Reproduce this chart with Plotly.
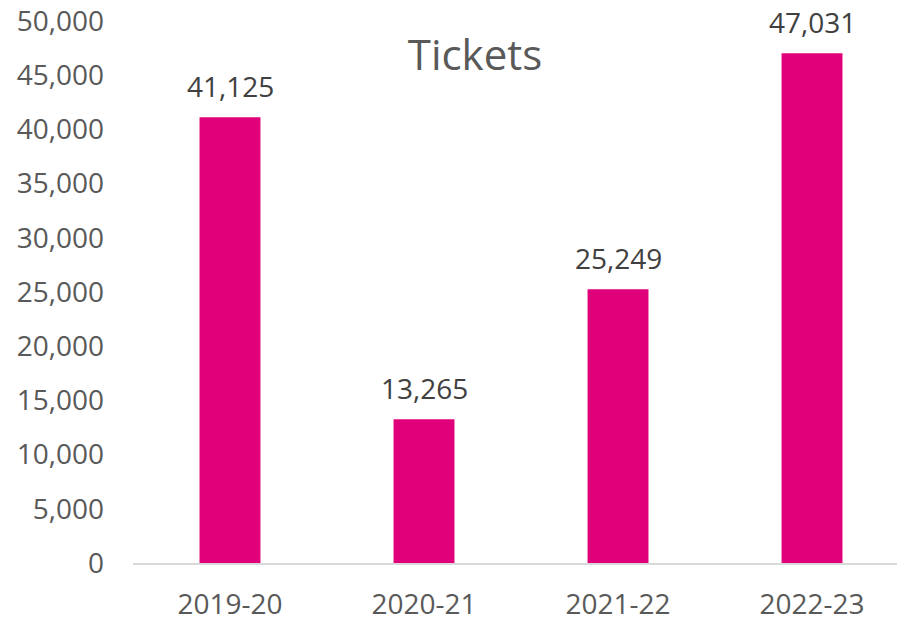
import plotly.graph_objects as go

categories = ["2019-20", "2020-21", "2021-22", "2022-23"]
tickets = [41125, 13265, 25249, 47031]
y_ticks = list(range(0, 50001, 5000))
y_tick_labels = [f"{v:,}" for v in y_ticks]
title_text = "Tickets"

BAR = "#E0007A"
FONT = "Open Sans"

fig = go.Figure()
fig.add_trace(go.Bar(
    x=categories, y=tickets, marker=dict(color=BAR, line=dict(width=0)),
    hoverinfo="skip",
))

for c, v in zip(categories, tickets):
    fig.add_annotation(
        x=c, y=v, text=f"{v:,}", showarrow=False, yanchor="bottom",
        yshift=10, font=dict(family=FONT, size=28, color="#404040"),
    )

fig.update_layout(
    width=897, height=622,
    margin=dict(l=133, r=0, t=21, b=56),
    paper_bgcolor="white", plot_bgcolor="white",
    bargap=0.686,
    showlegend=False,
    hovermode=False,
    title=dict(
        text=title_text, x=475 / 897, xref="container", xanchor="center",
        y=1 - 55 / 622, yref="container", yanchor="middle",
        font=dict(family=FONT, size=42, color="#595959"),
    ),
)
fig.update_xaxes(
    range=[-0.5, 3.438], showgrid=False, zeroline=False,
    showline=True, linecolor="#D9D9D9", linewidth=1.5,
    ticks="", tickfont=dict(family=FONT, size=28, color="#595959"),
    ticklabelstandoff=16,
)
fig.update_yaxes(
    range=[0, 50000], tickvals=y_ticks, ticktext=y_tick_labels,
    showgrid=False, zeroline=False, showline=False, ticks="",
    tickfont=dict(family=FONT, size=28, color="#595959"),
    ticklabelstandoff=28,
)

fig.write_html(
    "out.html",
    config={"displayModeBar": False},
    post_script="document.body.style.margin='0px';document.body.style.overflow='hidden';",
)
